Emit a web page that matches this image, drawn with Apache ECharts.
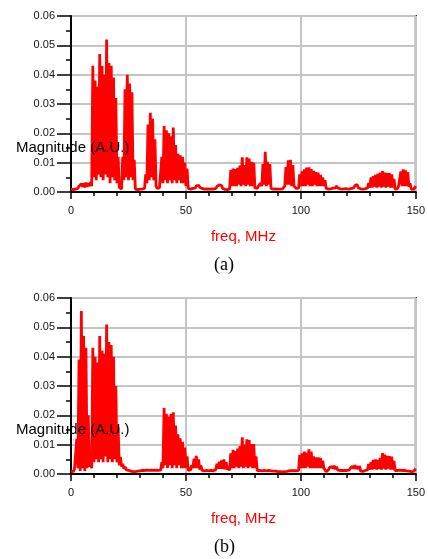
<!DOCTYPE html>
<html>
<head>
<meta charset="utf-8">
<script src="https://cdn.jsdelivr.net/npm/echarts@6/dist/echarts.min.js"></script>
<style>
  html, body { margin: 0; padding: 0; background: #fff; }
  #chart { width: 428px; height: 559px; }
</style>
</head>
<body>
<div id="chart"></div>
<script>
// Spectrum samples, one value every 0.5 MHz from 0 to 150 MHz
const FREQ_STEP = 0.5;
const X_TICKS = [0, 50, 100, 150];
const Y_TICKS = [0.00, 0.01, 0.02, 0.03, 0.04, 0.05, 0.06];
const PANEL_LABELS = ['(a)', '(b)'];

// Panel (a) magnitude, 20 samples (10 MHz) per row
const MAG_A = [
  0.0010, 0.0013, 0.0008, 0.0014, 0.0010, 0.0016, 0.0012, 0.0020, 0.0014, 0.0028, 0.0018, 0.0030, 0.0016, 0.0032, 0.0018, 0.0030, 0.0020, 0.0034, 0.0020, 0.0430,
  0.005, 0.038, 0.004, 0.036, 0.006, 0.047, 0.005, 0.043, 0.004, 0.040, 0.006, 0.052, 0.005, 0.044, 0.003, 0.043, 0.005, 0.039, 0.004, 0.032,
  0.003, 0.012, 0.0015, 0.0020, 0.0010, 0.012, 0.004, 0.035, 0.005, 0.040, 0.004, 0.037, 0.005, 0.034, 0.004, 0.011, 0.0010, 0.0015, 0.0008, 0.0012,
  0.0010, 0.0014, 0.0010, 0.0016, 0.0012, 0.006, 0.003, 0.023, 0.004, 0.027, 0.005, 0.025, 0.004, 0.018, 0.002, 0.0012, 0.0010, 0.0015, 0.0012, 0.012,
  0.003, 0.0225, 0.004, 0.021, 0.003, 0.020, 0.004, 0.019, 0.003, 0.022, 0.004, 0.016, 0.003, 0.013, 0.004, 0.0125, 0.003, 0.012, 0.003, 0.010,
  0.002, 0.008, 0.0012, 0.0015, 0.0010, 0.0016, 0.0012, 0.0017, 0.0013, 0.0021, 0.0015, 0.0023, 0.0016, 0.0021, 0.0012, 0.0016, 0.0010, 0.0015, 0.0011, 0.0014,
  0.0010, 0.0014, 0.0011, 0.0015, 0.0010, 0.0014, 0.0012, 0.0019, 0.0016, 0.0024, 0.0018, 0.0022, 0.0012, 0.0015, 0.0009, 0.0013, 0.0008, 0.0012, 0.0010, 0.0075,
  0.002, 0.0080, 0.002, 0.0078, 0.002, 0.0082, 0.0025, 0.0090, 0.002, 0.0118, 0.0025, 0.0092, 0.002, 0.0118, 0.0025, 0.0114, 0.002, 0.0103, 0.002, 0.0100,
  0.0015, 0.0018, 0.0012, 0.0020, 0.0014, 0.0030, 0.002, 0.0095, 0.0025, 0.0137, 0.002, 0.0103, 0.0025, 0.0095, 0.0012, 0.0016, 0.0010, 0.0015, 0.0011, 0.0014,
  0.0010, 0.0014, 0.0010, 0.0013, 0.0011, 0.0016, 0.002, 0.0085, 0.0025, 0.0108, 0.0025, 0.0110, 0.002, 0.0092, 0.002, 0.0016, 0.0012, 0.0018, 0.0013, 0.0060,
  0.002, 0.0070, 0.002, 0.0077, 0.002, 0.0083, 0.0025, 0.0084, 0.002, 0.0078, 0.002, 0.0072, 0.0025, 0.0068, 0.002, 0.0066, 0.002, 0.0058, 0.002, 0.0050,
  0.002, 0.0040, 0.0012, 0.0016, 0.0010, 0.0014, 0.0011, 0.0016, 0.0013, 0.0018, 0.0014, 0.0021, 0.0014, 0.0018, 0.0011, 0.0015, 0.0010, 0.0014, 0.0011, 0.0015,
  0.0011, 0.0014, 0.0010, 0.0015, 0.0012, 0.0018, 0.0014, 0.0022, 0.0016, 0.0025, 0.0014, 0.0019, 0.0011, 0.0015, 0.0010, 0.0014, 0.0011, 0.0016, 0.0014, 0.0030,
  0.0015, 0.0050, 0.0015, 0.0054, 0.0018, 0.0058, 0.0015, 0.0063, 0.0018, 0.0066, 0.0015, 0.0071, 0.0018, 0.0066, 0.0015, 0.0064, 0.0018, 0.0064, 0.0015, 0.0060,
  0.0015, 0.0045, 0.0010, 0.0014, 0.0011, 0.0020, 0.0018, 0.0070, 0.0020, 0.0077, 0.0020, 0.0074, 0.0020, 0.0068, 0.0018, 0.0030, 0.0010, 0.0012, 0.0009, 0.0014,
  0.0020
];

// Panel (b) magnitude, 20 samples (10 MHz) per row
const MAG_B = [
  0.0010, 0.0015, 0.0008, 0.0016, 0.0012, 0.012, 0.002, 0.039, 0.001, 0.0556, 0.002, 0.047, 0.001, 0.043, 0.002, 0.020, 0.0025, 0.0035, 0.0020, 0.043,
  0.004, 0.040, 0.005, 0.038, 0.004, 0.047, 0.005, 0.042, 0.004, 0.041, 0.006, 0.051, 0.004, 0.045, 0.005, 0.044, 0.004, 0.040, 0.005, 0.030,
  0.004, 0.016, 0.003, 0.0058, 0.0025, 0.0035, 0.0018, 0.0025, 0.0015, 0.0020, 0.0012, 0.0018, 0.0010, 0.0015, 0.0008, 0.0012, 0.0008, 0.0013, 0.0010, 0.0014,
  0.0011, 0.0015, 0.0012, 0.0016, 0.0012, 0.0015, 0.0013, 0.0017, 0.0012, 0.0016, 0.0013, 0.0016, 0.0012, 0.0016, 0.0013, 0.0017, 0.0012, 0.0016, 0.0013, 0.0040,
  0.002, 0.0225, 0.003, 0.0205, 0.002, 0.0195, 0.003, 0.0205, 0.002, 0.021, 0.003, 0.0165, 0.002, 0.0135, 0.003, 0.0122, 0.002, 0.011, 0.002, 0.009,
  0.002, 0.006, 0.0012, 0.0016, 0.0014, 0.0030, 0.002, 0.0052, 0.002, 0.0062, 0.002, 0.0050, 0.0015, 0.0030, 0.0012, 0.0016, 0.0011, 0.0015, 0.0012, 0.0015,
  0.0011, 0.0015, 0.0012, 0.0014, 0.0011, 0.0016, 0.0015, 0.0035, 0.0018, 0.0042, 0.0018, 0.0046, 0.0018, 0.0050, 0.0016, 0.0040, 0.0014, 0.0025, 0.0012, 0.0070,
  0.002, 0.0082, 0.002, 0.0078, 0.0025, 0.0087, 0.002, 0.0095, 0.0025, 0.0125, 0.002, 0.0100, 0.0025, 0.0118, 0.002, 0.0116, 0.0025, 0.0102, 0.002, 0.0102,
  0.002, 0.0060, 0.0012, 0.0015, 0.0012, 0.0015, 0.0011, 0.0014, 0.0012, 0.0015, 0.0011, 0.0014, 0.0012, 0.0015, 0.0011, 0.0014, 0.0010, 0.0013, 0.0010, 0.0013,
  0.0008, 0.0011, 0.0008, 0.0010, 0.0007, 0.0010, 0.0008, 0.0011, 0.0009, 0.0013, 0.0011, 0.0014, 0.0011, 0.0014, 0.0011, 0.0015, 0.0011, 0.0014, 0.0012, 0.0065,
  0.002, 0.0070, 0.002, 0.0076, 0.002, 0.0072, 0.0025, 0.0084, 0.002, 0.0076, 0.002, 0.0060, 0.002, 0.0057, 0.002, 0.0057, 0.002, 0.0055, 0.002, 0.0045,
  0.002, 0.0022, 0.0008, 0.0012, 0.0014, 0.0022, 0.0016, 0.0026, 0.0018, 0.0028, 0.0016, 0.0025, 0.0013, 0.0016, 0.0012, 0.0015, 0.0012, 0.0015, 0.0012, 0.0015,
  0.0012, 0.0015, 0.0013, 0.0020, 0.0016, 0.0026, 0.0018, 0.0030, 0.0017, 0.0026, 0.0016, 0.0027, 0.0010, 0.0008, 0.0009, 0.0012, 0.0012, 0.0018, 0.0015, 0.0034,
  0.0015, 0.0040, 0.0015, 0.0048, 0.0018, 0.0050, 0.0015, 0.0048, 0.0018, 0.0055, 0.0015, 0.0071, 0.0018, 0.0066, 0.0015, 0.0062, 0.0018, 0.0061, 0.0015, 0.0059,
  0.0015, 0.0045, 0.0012, 0.0015, 0.0012, 0.0015, 0.0013, 0.0016, 0.0012, 0.0015, 0.0012, 0.0015, 0.0011, 0.0013, 0.0010, 0.0012, 0.0008, 0.0010, 0.0009, 0.0014,
  0.0018
];

const SANS = '"Liberation Sans", Arial, sans-serif';
const SERIF = '"Liberation Serif", "Times New Roman", serif';
const RED = '#ff0000';

const PANELS = [
  { top: 16, mag: MAG_A },
  { top: 298, mag: MAG_B }
];
const PLOT_LEFT = 71, PLOT_WIDTH = 345, PLOT_HEIGHT = 176;

const toPairs = (mag) => mag.map((v, i) => [i * FREQ_STEP, v]);

const grids = [], xAxes = [], yAxes = [], series = [], graphics = [];

PANELS.forEach((p, k) => {
  grids.push({
    left: PLOT_LEFT, top: p.top, width: PLOT_WIDTH, height: PLOT_HEIGHT,
    show: true, borderColor: '#000', borderWidth: 2, backgroundColor: 'transparent'
  });
  xAxes.push({
    gridIndex: k, type: 'value',
    min: X_TICKS[0], max: X_TICKS[X_TICKS.length - 1], interval: X_TICKS[1] - X_TICKS[0],
    name: 'freq, MHz', nameLocation: 'middle', nameGap: 37,
    nameTextStyle: { color: RED, fontFamily: SANS, fontSize: 15 },
    axisLine: { show: true, onZero: false, lineStyle: { color: '#000', width: 2 } },
    axisTick: { show: true, length: 7, lineStyle: { color: '#000', width: 1.5 } },
    minorTick: { show: true, splitNumber: 5, length: 4, lineStyle: { color: '#000', width: 1.5 } },
    axisLabel: { color: '#111', fontFamily: SANS, fontSize: 11, margin: 13 },
    splitLine: { show: true, lineStyle: { color: '#c4c4c4', width: 2 } }
  });
  yAxes.push({
    gridIndex: k, type: 'value',
    min: Y_TICKS[0], max: Y_TICKS[Y_TICKS.length - 1], interval: Y_TICKS[1] - Y_TICKS[0],
    axisLine: { show: true, lineStyle: { color: '#000', width: 2 } },
    axisTick: { show: true, length: 14, lineStyle: { color: '#000', width: 1.5 } },
    minorTick: { show: true, splitNumber: 2, length: 5, lineStyle: { color: '#000', width: 1.5 } },
    axisLabel: { color: '#111', fontFamily: SANS, fontSize: 11, margin: 16,
                 formatter: (v) => v.toFixed(2) },
    splitLine: { show: true, lineStyle: { color: '#c4c4c4', width: 2 } }
  });
  series.push({
    type: 'line', xAxisIndex: k, yAxisIndex: k,
    data: toPairs(p.mag),
    showSymbol: false, symbol: 'none', sampling: false,
    lineStyle: { color: RED, width: 2.8, join: 'bevel' },
    clip: true, z: 3
  });
  graphics.push({
    type: 'text', left: 16, top: p.top + 124, z: 10,
    style: { text: 'Magnitude (A.U.)', fill: '#000', font: '15px ' + SANS }
  });
  graphics.push({
    type: 'text', left: 214, top: p.top + 240, z: 10,
    style: { text: PANEL_LABELS[k], fill: '#000', font: '18px ' + SERIF, textAlign: 'center' }
  });
});

const chart = echarts.init(document.getElementById('chart'), null, { renderer: 'canvas' });
chart.setOption({
  animation: false,
  backgroundColor: '#fff',
  grid: grids,
  xAxis: xAxes,
  yAxis: yAxes,
  series: series,
  graphic: graphics
});
</script>
</body>
</html>
